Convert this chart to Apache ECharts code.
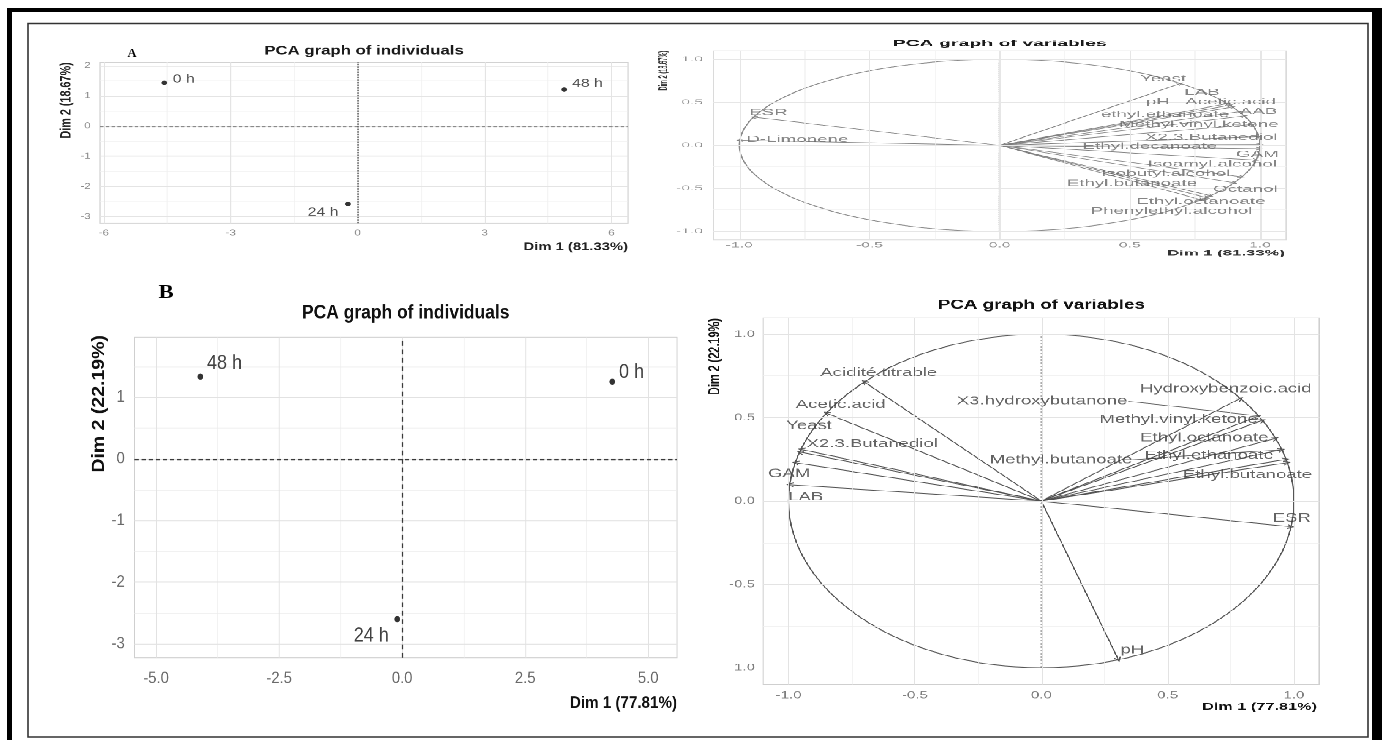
<!DOCTYPE html>
<html>
<head>
<meta charset="utf-8">
<script src="https://cdn.jsdelivr.net/npm/echarts@6/dist/echarts.min.js"></script>
<style>
  html, body { margin: 0; padding: 0; background: #fff; width: 1386px; height: 740px; overflow: hidden; }
  .layer { position: absolute; transform-origin: 0 0; }
</style>
</head>
<body>
<div id="base" class="layer" style="left:0;top:0;width:1386px;height:740px"></div>
<div id="pA1" class="layer"></div>
<div id="pA2" class="layer"></div>
<div id="pB1" class="layer"></div>
<div id="pB2" class="layer"></div>
<script>
// ---------- Panel A : individuals ----------
const timesA = ['0 h', '24 h', '48 h'];
const indA_dim1 = [-4.57, -0.23, 4.88];
const indA_dim2 = [1.43, -2.58, 1.21];

// ---------- Panel A : variables (correlation circle) ----------
const varsA = ['Yeast', 'LAB', 'pH', 'Acetic.acid', 'AAB', 'ethyl.ethanoate', 'Methyl.vinyl.ketone',
  'X2.3.Butanediol', 'Ethyl.decanoate', 'GAM', 'Isoamyl.alcohol', 'Isobutyl.alcohol',
  'Ethyl.butanoate', 'Octanol', 'Ethyl.octanoate', 'Phenylethyl.alcohol', 'ESR', 'D-Limonene'];
const varA_dim1 = [0.695, 0.875, 0.885, 0.895, 0.92, 0.94, 0.97, 0.995, 1.0, 0.999, 0.985, 0.93,
  0.9, 0.81, 0.795, 0.775, -0.945, -0.998];
const varA_dim2 = [0.719, 0.484, 0.466, 0.446, 0.392, 0.341, 0.243, 0.10, 0.01, -0.04, -0.172, -0.367,
  -0.436, -0.586, -0.607, -0.632, 0.327, 0.06];

// ---------- Panel B : individuals ----------
const timesB = ['0 h', '24 h', '48 h'];
const indB_dim1 = [4.27, -0.10, -4.10];
const indB_dim2 = [1.255, -2.60, 1.336];

// ---------- Panel B : variables (correlation circle) ----------
const varsB = ['Acidité.titrable', 'Acetic.acid', 'Yeast', 'X2.3.Butanediol', 'GAM', 'LAB',
  'Hydroxybenzoic.acid', 'X3.hydroxybutanone', 'Methyl.vinyl.ketone', 'Ethyl.octanoate',
  'Methyl.butanoate', 'Ethyl.ethanoate', 'Ethyl.butanoate', 'ESR', 'pH'];
const varB_dim1 = [-0.70, -0.85, -0.95, -0.955, -0.973, -0.995, 0.788, 0.86, 0.875, 0.927,
  0.951, 0.968, 0.973, 0.988, 0.305];
const varB_dim2 = [0.714, 0.527, 0.31, 0.295, 0.23, 0.098, 0.616, 0.51, 0.484, 0.376,
  0.308, 0.25, 0.23, -0.155, -0.952];

// ---------- tick labels ----------
const ticksIndA_x = [-6, -3, 0, 3, 6];
const ticksIndA_y = [-3, -2, -1, 0, 1, 2];
const ticksIndB_x = [-5, -2.5, 0, 2.5, 5];
const ticksIndB_y = [-3, -2, -1, 0, 1];
const ticksVar = [-1, -0.5, 0, 0.5, 1];

// ---------- text ----------
const titleInd = 'PCA graph of individuals';
const titleVar = 'PCA graph of variables';
const dimA1 = 'Dim 1 (81.33%)', dimA2 = 'Dim 2 (18.67%)';
const dimB1 = 'Dim 1 (77.81%)', dimB2 = 'Dim 2 (22.19%)';

// ---------- label layout (kept apart from the values) ----------
// point labels: [dx, dy, align] in page pixels from the point
const labOffIndA = [[8.4, -3.7, 'left'], [-9.4, 8.3, 'right'], [7.9, -6, 'left']];
const labOffIndB = [[6.7, -9, 'left'], [-8.4, 17, 'right'], [6.6, -13.4, 'left']];
// variable label centres, in the circle's own units
const labA_x = [0.628, 0.777, 0.608, 0.887, 0.994, 0.635, 0.765, 0.813, 0.577, 0.99, 0.817, 0.638,
  0.508, 0.944, 0.773, 0.66, -0.888, -0.777];
const labA_y = [0.772, 0.613, 0.502, 0.502, 0.394, 0.355, 0.24, 0.093, -0.012, -0.108, -0.223, -0.328,
  -0.443, -0.513, -0.655, -0.764, 0.382, 0.066];
const labB_x = [-0.643, -0.794, -0.919, -0.669, -0.998, -0.932, 0.730, 0.003, 0.543, 0.645,
  0.078, 0.664, 0.816, 0.991, 0.360];
const labB_y = [0.770, 0.579, 0.453, 0.343, 0.164, 0.024, 0.673, 0.599, 0.489, 0.379,
  0.248, 0.274, 0.158, -0.102, -0.894];
// repel segments: start point next to the label, end at the variable's arrow tip
const segB = [{ from: [0.344, 0.599], to: 7 }, { from: [0.36, 0.248], to: 10 }];

const FONT = '"Liberation Sans", Arial, Helvetica, sans-serif';
const SERIF = '"Liberation Serif", "Times New Roman", serif';
const ARROW = 'path://M5,0L10,10L8.3,10L5,3.4L1.7,10L0,10Z';

// Each plot lives in its own layer; the layer is scaled so that the plot keeps
// the stretched proportions of the published figure.
function mountPanel(id, box, sx, sy) {
  const el = document.getElementById(id);
  el.style.left = box.x + 'px';
  el.style.top = box.y + 'px';
  el.style.width = (box.w / sx) + 'px';
  el.style.height = (box.h / sy) + 'px';
  el.style.transform = 'scale(' + sx + ',' + sy + ')';
  const chart = echarts.init(el, null, { renderer: 'canvas', devicePixelRatio: 2 });
  return { chart, sx, sy, X: px => (px - box.x) / sx, Y: py => (py - box.y) / sy };
}

function minorOf(major, lo, hi) {
  const step = major[1] - major[0];
  const out = [];
  for (let i = -1; i < major.length; i++) {
    const v = (i < 0 ? major[0] - step : major[i]) + step / 2;
    if (v > lo && v < hi) out.push(v);
  }
  return out;
}

function baseOption(p, c) {
  const r = c.rect;
  return {
    animation: false,
    textStyle: { fontFamily: FONT },
    grid: {
      left: p.X(r.L), top: p.Y(r.T), width: (r.R - r.L) / p.sx, height: (r.B - r.T) / p.sy,
      show: true, borderColor: c.border, borderWidth: 1, backgroundColor: 'rgba(0,0,0,0)'
    },
    xAxis: {
      type: 'value', min: c.xr[0], max: c.xr[1],
      axisLine: { show: false }, splitLine: { show: false },
      axisTick: { show: true, customValues: c.xt, length: 3 / p.sy, lineStyle: { color: '#b0b0b0', width: 1 } },
      axisLabel: {
        customValues: c.xt, formatter: c.fmtX, fontSize: c.tickFont, color: c.tickColor, fontFamily: FONT,
        margin: (c.xLab - r.B) / p.sy - c.tickFont / 2
      }
    },
    yAxis: {
      type: 'value', min: c.yr[0], max: c.yr[1],
      axisLine: { show: false }, splitLine: { show: false },
      axisTick: { show: true, customValues: c.yt, length: 3 / p.sx, lineStyle: { color: '#b0b0b0', width: 1 } },
      axisLabel: {
        customValues: c.yt, formatter: c.fmtY, fontSize: c.tickFont, color: c.tickColor, fontFamily: FONT,
        margin: (r.L - c.yLab) / p.sx
      }
    }
  };
}

function gridLines(c, extra) {
  const d = [];
  const mn = { color: c.minorColor, width: 0.7, type: 'solid' };
  const mj = { color: c.majorColor, width: 1, type: 'solid' };
  minorOf(c.xt, c.xr[0], c.xr[1]).forEach(v => d.push({ xAxis: v, lineStyle: mn }));
  minorOf(c.yt, c.yr[0], c.yr[1]).forEach(v => d.push({ yAxis: v, lineStyle: mn }));
  c.xt.forEach(v => d.push({ xAxis: v, lineStyle: mj }));
  c.yt.forEach(v => d.push({ yAxis: v, lineStyle: mj }));
  (extra || []).forEach(e => d.push(e));
  return {
    type: 'scatter', data: [], silent: true, z: 1,
    markLine: { silent: true, symbol: ['none', 'none'], label: { show: false }, animation: false,
      emphasis: { disabled: true }, data: d }
  };
}

function txt(p, px, py, text, size, o) {
  o = o || {};
  const align = o.align || 'center';
  return {
    type: 'text', x: p.X(px), y: p.Y(py), rotation: o.rot || 0, silent: true, z: 20,
    style: {
      text: text, font: (o.bold ? 'bold ' : '') + size + 'px ' + (o.family || FONT), fill: o.color || '#1a1a1a',
      textAlign: align, textVerticalAlign: 'middle', align: align, verticalAlign: 'middle'
    }
  };
}

function pointSeries(p, names, d1, d2, offs, size, font, color) {
  return {
    type: 'scatter', silent: true, z: 6, symbol: 'circle', symbolSize: size,
    itemStyle: { color: '#000' },
    data: names.map((n, i) => ({
      name: n, value: [d1[i], d2[i]],
      label: { align: offs[i][2], offset: [offs[i][0] / p.sx, offs[i][1] / p.sy] }
    })),
    label: { show: true, position: 'inside', formatter: '{b}', fontSize: font, color: color,
      fontFamily: FONT, verticalAlign: 'middle', textBorderWidth: 0 }
  };
}

function circleSeries(color, width) {
  return {
    type: 'custom', silent: true, z: 3, clip: false, data: [[0, 0, 1]], encode: { x: 0, y: 1 },
    renderItem: function (params, api) {
      const c = api.coord([api.value(0), api.value(1)]);
      const ex = api.coord([api.value(0) + api.value(2), api.value(1)]);
      const ey = api.coord([api.value(0), api.value(1) + api.value(2)]);
      return { type: 'ellipse', shape: { cx: c[0], cy: c[1], rx: Math.abs(ex[0] - c[0]), ry: Math.abs(c[1] - ey[1]) },
        style: { fill: 'none', stroke: color, lineWidth: width } };
    }
  };
}

function axesLines(hStyle, vStyle) {
  return {
    type: 'lines', coordinateSystem: 'cartesian2d', silent: true, z: 2, symbol: ['none', 'none'],
    data: [
      { coords: [[-1, 0], [1, 0]], lineStyle: hStyle },
      { coords: [[0, -1], [0, 1]], lineStyle: vStyle }
    ]
  };
}

function arrowSeries(d1, d2, color, width, head) {
  return {
    type: 'lines', coordinateSystem: 'cartesian2d', silent: true, z: 4,
    symbol: ['none', ARROW], symbolSize: head,
    lineStyle: { color: color, width: width, opacity: 1, curveness: 0 },
    data: d1.map((x, i) => ({ coords: [[0, 0], [x, d2[i]]] }))
  };
}

function labelSeries(names, lx, ly, font, color) {
  return {
    type: 'scatter', silent: true, z: 5, symbolSize: 1, itemStyle: { color: 'rgba(0,0,0,0)' },
    data: names.map((n, i) => ({ name: n, value: [lx[i], ly[i]] })),
    label: { show: true, position: 'inside', formatter: '{b}', fontSize: font, color: color,
      fontFamily: FONT, align: 'center', verticalAlign: 'middle', textBorderWidth: 0 }
  };
}

const fmtInt = v => String(v);
const fmt1 = v => v.toFixed(1);

// ---------- frame and panel letters ----------
const base = echarts.init(document.getElementById('base'), null, { renderer: 'canvas' });
base.setOption({
  animation: false,
  graphic: [
    { type: 'rect', shape: { x: 7, y: 8, width: 5, height: 732 }, style: { fill: '#000' } },
    { type: 'rect', shape: { x: 7, y: 8, width: 1375, height: 4 }, style: { fill: '#000' } },
    { type: 'rect', shape: { x: 1372, y: 8, width: 10, height: 732 }, style: { fill: '#000' } },
    { type: 'rect', shape: { x: 28, y: 23.5, width: 1340, height: 713.5 }, style: { fill: 'none', stroke: '#333', lineWidth: 1.6 } },
    { type: 'text', x: 132, y: 54, style: { text: 'A', font: 'bold 12.5px ' + SERIF, fill: '#000',
      textAlign: 'center', textVerticalAlign: 'middle', align: 'center', verticalAlign: 'middle' } },
    { type: 'text', x: 166, y: 293.5, scaleX: 1.2, style: { text: 'B', font: 'bold 19px ' + SERIF, fill: '#000',
      textAlign: 'center', textVerticalAlign: 'middle', align: 'center', verticalAlign: 'middle' } }
  ]
});

// ---------- A : individuals ----------
(function () {
  const p = mountPanel('pA1', { x: 30, y: 26, w: 640, h: 244 }, 1.157, 0.864);
  const c = {
    rect: { L: 100, T: 62.3, R: 628, B: 223.3 }, xr: [-6.09, 6.39], yr: [-3.22, 2.11],
    xt: ticksIndA_x, yt: ticksIndA_y, fmtX: fmtInt, fmtY: fmtInt, tickFont: 10, tickColor: '#8a8a8a',
    xLab: 233.3, yLab: 90.7, border: '#d2d2d2', majorColor: '#e4e4e4', minorColor: '#f0f0f0'
  };
  const opt = baseOption(p, c);
  opt.series = [
    gridLines(c, [
      { yAxis: 0, lineStyle: { color: '#8a8a8a', width: 1.3, type: [3, 2] } },
      { xAxis: 0, lineStyle: { color: '#555', width: 1.3, type: [1.6, 1.4] } }
    ]),
    pointSeries(p, timesA, indA_dim1, indA_dim2, labOffIndA, 5, 13.7, '#222')
  ];
  opt.graphic = [
    txt(p, 364, 51, titleInd, 14.5, { bold: true }),
    txt(p, 628, 247, dimA1, 12.8, { bold: true, align: 'right', color: '#222' }),
    txt(p, 66.7, 62.3, dimA2, 12.5, { bold: true, align: 'right', rot: Math.PI / 2, color: '#222' })
  ];
  p.chart.setOption(opt);
})();

// ---------- A : variables ----------
(function () {
  const p = mountPanel('pA2', { x: 640, y: 26, w: 725, h: 244 }, 1.466, 0.682);
  const c = {
    rect: { L: 713.3, T: 50.7, R: 1286, B: 240 }, xr: [-1.1, 1.1], yr: [-1.1, 1.1],
    xt: ticksVar, yt: ticksVar, fmtX: fmt1, fmtY: fmt1, tickFont: 10.7, tickColor: '#929292',
    xLab: 245.3, yLab: 703, border: '#dadada', majorColor: '#e6e6e6', minorColor: '#f1f1f1'
  };
  const opt = baseOption(p, c);
  opt.series = [
    gridLines(c),
    axesLines({ color: '#999', width: 1, type: [3, 2] }, { color: '#444', width: 1.3, type: [1.5, 1.5] }),
    circleSeries('#8a8a8a', 1),
    arrowSeries(varA_dim1, varA_dim2, '#7f7f7f', 0.9, 5),
    labelSeries(varsA, labA_x, labA_y, 12.8, '#666')
  ];
  opt.graphic = [
    txt(p, 999.7, 43.5, titleVar, 13.3, { bold: true }),
    txt(p, 1285, 253.3, dimA1, 11.4, { bold: true, align: 'right', color: '#333' }),
    txt(p, 664, 50.7, dimA2, 8.3, { bold: true, align: 'right', rot: Math.PI / 2, color: '#333' })
  ];
  p.chart.setOption(opt);
})();

// ---------- B : individuals ----------
(function () {
  const p = mountPanel('pB1', { x: 30, y: 280, w: 660, h: 455 }, 0.949, 1.054);
  const c = {
    rect: { L: 134.4, T: 337.3, R: 677, B: 657.7 }, xr: [-5.44, 5.585], yr: [-3.226, 1.976],
    xt: ticksIndB_x, yt: ticksIndB_y, fmtX: fmt1, fmtY: fmtInt, tickFont: 15.7, tickColor: '#6a6a6a',
    xLab: 678.3, yLab: 124.7, border: '#cfcfcf', majorColor: '#e2e2e2', minorColor: '#ececec'
  };
  const opt = baseOption(p, c);
  opt.series = [
    gridLines(c, [
      { yAxis: 0, lineStyle: { color: '#3a3a3a', width: 1.3, type: [4.5, 3] } },
      { xAxis: 0, lineStyle: { color: '#3a3a3a', width: 1.3, type: [4.5, 3.5] } }
    ]),
    pointSeries(p, timesB, indB_dim1, indB_dim2, labOffIndB, 6, 19, '#111')
  ];
  opt.graphic = [
    txt(p, 405.7, 313.3, titleInd, 18.4, { bold: true, color: '#111' }),
    txt(p, 677, 703.3, dimB1, 16, { bold: true, align: 'right', color: '#111' }),
    txt(p, 99.1, 335, dimB2, 18.5, { bold: true, align: 'right', rot: Math.PI / 2, color: '#111' })
  ];
  p.chart.setOption(opt);
})();

// ---------- B : variables ----------
(function () {
  const p = mountPanel('pB2', { x: 690, y: 280, w: 676, h: 455 }, 1.225, 0.816);
  const c = {
    rect: { L: 763.3, T: 317.7, R: 1319.3, B: 684.3 }, xr: [-1.1, 1.1], yr: [-1.1, 1.1],
    xt: ticksVar, yt: ticksVar, fmtX: fmt1, fmtY: fmt1, tickFont: 12.3, tickColor: '#7e7e7e',
    xLab: 695.7, yLab: 755, border: '#cfcfcf', majorColor: '#e3e3e3', minorColor: '#eeeeee'
  };
  const opt = baseOption(p, c);
  opt.series = [
    gridLines(c),
    axesLines({ color: '#8a8a8a', width: 1.1, type: [4, 3] }, { color: '#555', width: 1.6, type: [2, 2] }),
    circleSeries('#555', 1.1),
    arrowSeries(varB_dim1, varB_dim2, '#4f4f4f', 1, 6),
    {
      type: 'lines', coordinateSystem: 'cartesian2d', silent: true, z: 4, symbol: ['none', 'none'],
      lineStyle: { color: '#555', width: 0.9, opacity: 1 },
      data: segB.map(s => ({ coords: [s.from, [varB_dim1[s.to], varB_dim2[s.to]]] }))
    },
    labelSeries(varsB, labB_x, labB_y, 15.2, '#3d3d3d')
  ];
  opt.graphic = [
    txt(p, 1041.3, 305, titleVar, 15.4, { bold: true, color: '#111' }),
    txt(p, 1317, 707, dimB1, 13.3, { bold: true, align: 'right', color: '#111' }),
    txt(p, 715, 318.3, dimB2, 13.3, { bold: true, align: 'right', rot: Math.PI / 2, color: '#111' })
  ];
  p.chart.setOption(opt);
})();
</script>
</body>
</html>
